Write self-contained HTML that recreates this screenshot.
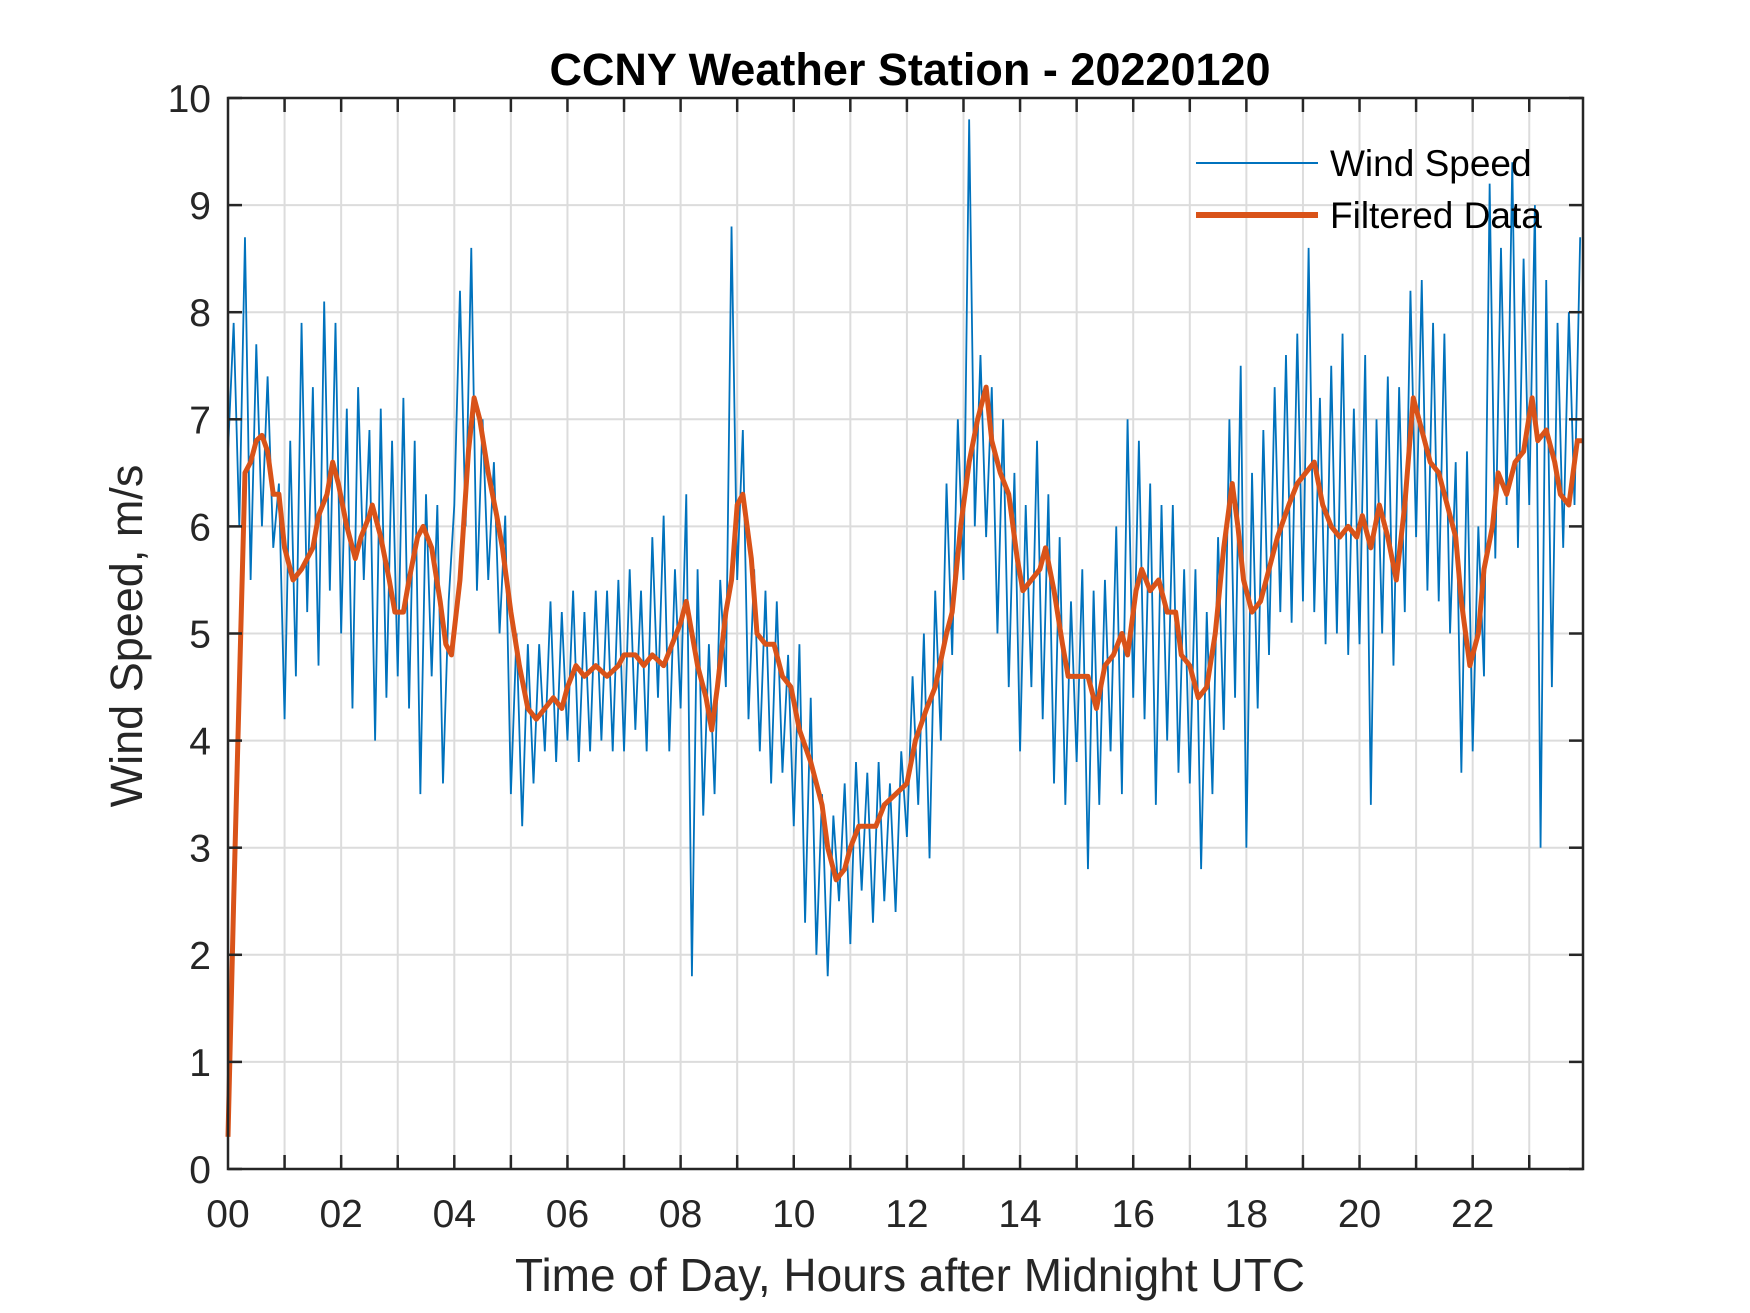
<!DOCTYPE html>
<html><head><meta charset="utf-8"><style>html,body{margin:0;padding:0;background:#fff}svg{display:block}</style></head>
<body>
<svg id="chart" width="1750" height="1313" viewBox="0 0 1750 1313" xmlns="http://www.w3.org/2000/svg" font-family="Liberation Sans, Arial, sans-serif">
<rect width="1750" height="1313" fill="#fff"/>
<g id="grid"></g>
<g id="series"></g>
<g id="axes"></g>
<text x="910" y="85" text-anchor="middle" font-size="45" font-weight="bold" fill="#000">CCNY Weather Station - 20220120</text>
<text x="910" y="1291" text-anchor="middle" font-size="46" fill="#262626">Time of Day, Hours after Midnight UTC</text>
<text transform="translate(142,636) rotate(-90)" text-anchor="middle" font-size="45" fill="#262626">Wind Speed, m/s</text>
<g>
<line x1="1196" y1="163" x2="1318" y2="163" stroke="#0072BD" stroke-width="2"/>
<text x="1330" y="176" font-size="37" fill="#000">Wind Speed</text>
<line x1="1196" y1="215" x2="1318" y2="215" stroke="#D95319" stroke-width="6"/>
<text x="1330" y="228" font-size="37" fill="#000">Filtered Data</text>
</g>
</svg>
<script>
const xTicks = [0,2,4,6,8,10,12,14,16,18,20,22];
const xTickLabels = ["00","02","04","06","08","10","12","14","16","18","20","22"];
const yTicks = [0,1,2,3,4,5,6,7,8,9,10];
const windStep = 0.1;
const windValues = [
6.7,7.9,6.0,8.7,5.5,7.7,6.0,7.4,5.8,6.4,
4.2,6.8,4.6,7.9,5.2,7.3,4.7,8.1,5.4,7.9,
5.0,7.1,4.3,7.3,5.5,6.9,4.0,7.1,4.4,6.8,
4.6,7.2,4.3,6.8,3.5,6.3,4.6,6.2,3.6,5.3,
6.2,8.2,6.0,8.6,5.4,7.0,5.5,6.6,5.0,6.1,
3.5,5.0,3.2,4.9,3.6,4.9,3.9,5.3,3.8,5.2,
4.0,5.4,3.8,5.2,3.9,5.4,4.0,5.4,3.9,5.5,
3.9,5.6,4.1,5.4,3.9,5.9,4.4,6.1,3.9,5.6,
4.3,6.3,1.8,5.6,3.3,4.9,3.5,5.5,4.5,8.8,
5.5,6.9,4.2,5.6,3.9,5.4,3.6,5.3,3.7,4.8,
3.2,4.9,2.3,4.4,2.0,3.5,1.8,3.3,2.5,3.6,
2.1,3.8,2.6,3.7,2.3,3.8,2.5,3.6,2.4,3.9,
3.1,4.6,3.4,5.0,2.9,5.4,4.0,6.4,4.8,7.0,
5.5,9.8,6.0,7.6,5.9,7.3,5.0,7.0,4.5,6.5,
3.9,6.2,4.5,6.8,4.2,6.3,3.6,5.9,3.4,5.3,
3.8,5.6,2.8,5.4,3.4,5.5,3.9,6.0,3.5,7.0,
4.4,6.8,4.2,6.4,3.4,6.2,4.0,6.2,3.7,5.6,
3.6,5.6,2.8,5.2,3.5,5.9,4.1,7.0,4.4,7.5,
3.0,6.5,4.3,6.9,4.8,7.3,5.2,7.6,5.1,7.8,
5.3,8.6,5.2,7.2,4.9,7.5,5.0,7.8,4.8,7.1,
4.9,7.6,3.4,7.0,5.0,7.4,4.7,7.3,5.2,8.2,
5.9,8.3,5.4,7.9,5.3,7.8,5.0,6.6,3.7,6.7,
3.9,6.0,4.6,9.2,5.7,8.6,6.2,9.4,5.8,8.5,
6.2,9.0,3.0,8.3,4.5,7.9,5.8,8.0,6.2,8.7];
const filtHours = [0,0.1,0.2,0.3,0.4,0.5,0.6,0.7,0.8,0.9,1.0,1.15,1.3,1.5,1.6,1.75,1.85,1.95,2.1,2.25,2.35,2.5,2.55,2.7,2.85,2.95,3.1,3.2,3.35,3.45,3.6,3.75,3.85,3.95,4.1,4.25,4.35,4.45,4.6,4.75,4.85,5.0,5.15,5.3,5.45,5.6,5.75,5.9,6.0,6.15,6.3,6.5,6.7,6.9,7.0,7.2,7.35,7.5,7.7,7.85,8.0,8.1,8.2,8.3,8.45,8.55,8.65,8.8,8.9,9.0,9.1,9.25,9.35,9.5,9.65,9.8,9.95,10.1,10.3,10.5,10.6,10.75,10.9,11.0,11.15,11.3,11.45,11.6,11.8,12.0,12.15,12.35,12.5,12.7,12.8,12.95,13.1,13.25,13.4,13.5,13.65,13.8,13.95,14.05,14.2,14.35,14.45,14.6,14.75,14.85,15.0,15.2,15.35,15.5,15.65,15.8,15.9,16.05,16.15,16.3,16.45,16.6,16.75,16.85,17.0,17.15,17.3,17.45,17.6,17.75,17.85,17.95,18.1,18.25,18.4,18.55,18.75,18.9,19.05,19.2,19.35,19.5,19.65,19.8,19.95,20.05,20.2,20.35,20.5,20.65,20.8,20.95,21.1,21.25,21.4,21.55,21.7,21.8,21.95,22.1,22.2,22.35,22.45,22.6,22.75,22.9,23.05,23.15,23.3,23.45,23.55,23.7,23.85,23.95];
const filtValues = [0.3,2.5,4.5,6.5,6.6,6.8,6.85,6.7,6.3,6.3,5.8,5.5,5.6,5.8,6.1,6.3,6.6,6.4,6.0,5.7,5.9,6.1,6.2,5.9,5.5,5.2,5.2,5.5,5.9,6.0,5.8,5.3,4.9,4.8,5.5,6.7,7.2,7.0,6.5,6.1,5.8,5.2,4.7,4.3,4.2,4.3,4.4,4.3,4.5,4.7,4.6,4.7,4.6,4.7,4.8,4.8,4.7,4.8,4.7,4.9,5.1,5.3,5.0,4.7,4.4,4.1,4.5,5.2,5.5,6.2,6.3,5.7,5.0,4.9,4.9,4.6,4.5,4.1,3.8,3.4,3.0,2.7,2.8,3.0,3.2,3.2,3.2,3.4,3.5,3.6,4.0,4.3,4.5,5.0,5.2,6.0,6.6,7.0,7.3,6.8,6.5,6.3,5.7,5.4,5.5,5.6,5.8,5.4,4.9,4.6,4.6,4.6,4.3,4.7,4.8,5.0,4.8,5.4,5.6,5.4,5.5,5.2,5.2,4.8,4.7,4.4,4.5,5.0,5.8,6.4,6.0,5.5,5.2,5.3,5.6,5.9,6.2,6.4,6.5,6.6,6.2,6.0,5.9,6.0,5.9,6.1,5.8,6.2,5.9,5.5,6.2,7.2,6.9,6.6,6.5,6.2,5.9,5.3,4.7,5.0,5.6,6.0,6.5,6.3,6.6,6.7,7.2,6.8,6.9,6.6,6.3,6.2,6.8,6.8];

const L=228,R=1583,T=98,B=1169,XMAX=23.95,YMAX=10;
const sx=h=>L+h/XMAX*(R-L);
const sy=v=>B-v/YMAX*(B-T);
const NS='http://www.w3.org/2000/svg';
function mk(tag,parent){const e=document.createElementNS(NS,tag);parent.appendChild(e);return e;}
const grid=document.getElementById('grid'),axes=document.getElementById('axes'),series=document.getElementById('series');
for(let h=1;h<24;h++){
  const g=mk('line',grid);
  
  
  g.setAttribute('x1',sx(h));g.setAttribute('x2',sx(h));g.setAttribute('y1',T);g.setAttribute('y2',B);
  g.setAttribute('stroke','#dcdcdc');g.setAttribute('stroke-width','2');
}
yTicks.forEach(v=>{
  const g=mk('line',grid);
  
  
  g.setAttribute('x1',L);g.setAttribute('x2',R);g.setAttribute('y1',sy(v));g.setAttribute('y2',sy(v));
  g.setAttribute('stroke','#dcdcdc');g.setAttribute('stroke-width','2');
  const t=mk('text',axes);
  
  
  t.setAttribute('x',L-17);t.setAttribute('y',sy(v)+14);t.setAttribute('text-anchor','end');
  t.setAttribute('font-size','39');t.setAttribute('fill','#262626');t.textContent=String(v);
  [[L,L+14],[R,R-14]].forEach(p=>{const k=mk('line',axes);
    
    
    k.setAttribute('x1',p[0]);k.setAttribute('x2',p[1]);k.setAttribute('y1',sy(v));k.setAttribute('y2',sy(v));
    k.setAttribute('stroke','#262626');k.setAttribute('stroke-width','2.5');});
});
for(let h=1;h<24;h++){
  [[B,B-14],[T,T+14]].forEach(p=>{const k=mk('line',axes);
    
    
    k.setAttribute('x1',sx(h));k.setAttribute('x2',sx(h));k.setAttribute('y1',p[0]);k.setAttribute('y2',p[1]);
    k.setAttribute('stroke','#262626');k.setAttribute('stroke-width','2.5');});
}
xTicks.forEach((h,i)=>{
  const t=mk('text',axes);
  
  
  t.setAttribute('x',sx(h));t.setAttribute('y',B+58);t.setAttribute('text-anchor','middle');
  t.setAttribute('font-size','39');t.setAttribute('fill','#262626');t.textContent=xTickLabels[i];
});
const wind=mk('polyline',series);


wind.setAttribute('points',windValues.map((v,i)=>sx(i*windStep)+','+sy(v)).join(' '));
wind.setAttribute('fill','none');wind.setAttribute('stroke','#0072BD');wind.setAttribute('stroke-width','1.8');
const filt=mk('polyline',series);


filt.setAttribute('points',filtValues.map((v,i)=>sx(filtHours[i])+','+sy(v)).join(' '));
filt.setAttribute('fill','none');filt.setAttribute('stroke','#D95319');filt.setAttribute('stroke-width','5');filt.setAttribute('stroke-linejoin','round');
const box=mk('rect',axes);


box.setAttribute('x',L);box.setAttribute('y',T);box.setAttribute('width',R-L);box.setAttribute('height',B-T);
box.setAttribute('fill','none');box.setAttribute('stroke','#262626');box.setAttribute('stroke-width','2.5');
</script>
</body></html>
